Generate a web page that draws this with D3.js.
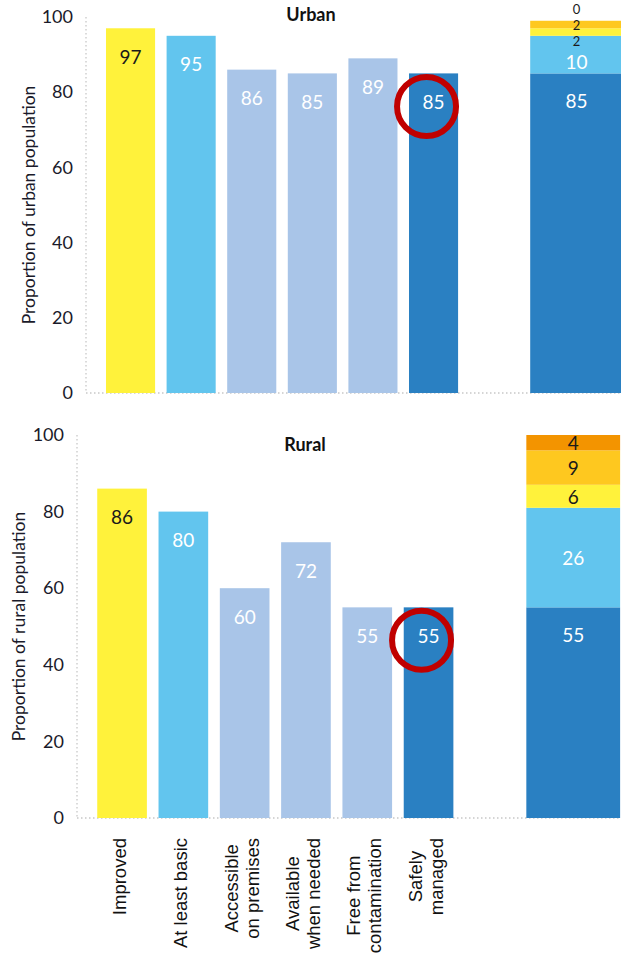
<!DOCTYPE html>
<html>
<head>
<meta charset="utf-8">
<script src="https://cdn.jsdelivr.net/npm/d3@7/dist/d3.min.js"></script>
<style>
  html, body { margin: 0; padding: 0; background: #fff; }
  svg { display: block; }
</style>
</head>
<body>
<svg id="chart" width="621" height="958"></svg>
<script>
// Drinking water service indicators, urban vs rural (% of population)
const categories = ["Improved", "At least basic", "Accessible on premises",
  "Available when needed", "Free from contamination", "Safely managed"];
const categoryLines = [["Improved"], ["At least basic"], ["Accessible", "on premises"],
  ["Available", "when needed"], ["Free from", "contamination"], ["Safely", "managed"]];
const urbanValues = [97, 95, 86, 85, 89, 85];
const ruralValues = [86, 80, 60, 72, 55, 55];

// Service ladder (stacked column), bottom to top
const ladderLevels = ["Safely managed", "Basic", "Limited", "Unimproved", "Surface water"];
const urbanLadder = [85, 10, 2, 2, 0];
const ruralLadder = [55, 26, 6, 9, 4];

const yTicks = [0, 20, 40, 60, 80, 100];

const barColors = ["#fff23b", "#62c5ee", "#a9c5e8", "#a9c5e8", "#a9c5e8", "#2a80c2"];
const barTextColors = ["#1a1a1a", "#fff", "#fff", "#fff", "#fff", "#fff"];
const ladderColors = ["#2a80c2", "#62c5ee", "#fff23b", "#fec81f", "#f39400"];
const ladderTextColors = ["#fff", "#fff", "#1a1a1a", "#1a1a1a", "#1a1a1a"];

const numFont = "Lato, 'Open Sans', sans-serif";
const svg = d3.select("#chart");

const panels = [
  { name: "Urban", values: urbanValues, ladder: urbanLadder,
    axisX: 86, step: 60.6, y0: 393, y100: 17,
    titleX: 311, titleY: 21,
    yTitle: "Proportion of urban population", yTitleX: 28 },
  { name: "Rural", values: ruralValues, ladder: ruralLadder,
    axisX: 77, step: 61.3, y0: 818, y100: 435,
    titleX: 305, titleY: 451,
    yTitle: "Proportion of rural population", yTitleX: 18 }
];

const slots = [...categories, "gap", "ladder"];
let lastX = null;

panels.forEach((p) => {
  const g = svg.append("g");
  const x = d3.scaleBand()
    .domain(slots)
    .range([p.axisX, p.axisX + p.step * 8.47])
    .paddingInner(0.19)
    .paddingOuter(0.33);
  const y = d3.scaleLinear().domain([0, 100]).range([p.y0, p.y100]);
  lastX = x;

  // dotted axis lines
  g.append("line")
    .attr("x1", p.axisX).attr("x2", p.axisX)
    .attr("y1", y(100)).attr("y2", y(0))
    .attr("stroke", "#c8c8c8").attr("stroke-width", 1.3)
    .attr("stroke-dasharray", "1.5,2.5");
  g.append("line")
    .attr("x1", p.axisX).attr("x2", 621)
    .attr("y1", y(0)).attr("y2", y(0))
    .attr("stroke", "#c8c8c8").attr("stroke-width", 1.3)
    .attr("stroke-dasharray", "1.5,2.5");

  // y ticks
  const yAxis = d3.axisLeft(y).tickValues(yTicks).tickSize(0).tickPadding(13);
  const ag = g.append("g").attr("transform", `translate(${p.axisX},0)`).call(yAxis);
  ag.select(".domain").remove();
  ag.selectAll("text")
    .attr("font-family", numFont).attr("font-size", 18)
    .attr("fill", "#1a1a2a");

  // y-axis title
  g.append("text")
    .attr("transform", `translate(${p.yTitleX},${(y(0) + y(100)) / 2}) rotate(-90)`)
    .attr("text-anchor", "middle").attr("dominant-baseline", "central")
    .attr("font-family", numFont).attr("font-size", 17.5)
    .attr("fill", "#1a1a2a")
    .text(p.yTitle);

  // panel title
  g.append("text")
    .attr("x", p.titleX).attr("y", p.titleY)
    .attr("text-anchor", "middle")
    .attr("font-family", numFont).attr("font-size", 18).attr("font-weight", 700)
    .attr("fill", "#111")
    .text(p.name);

  // indicator bars
  g.selectAll("rect.bar").data(p.values).join("rect")
    .attr("class", "bar")
    .attr("x", (d, i) => x(categories[i]))
    .attr("width", x.bandwidth())
    .attr("y", d => y(d))
    .attr("height", d => y(0) - y(d))
    .attr("fill", (d, i) => barColors[i]);

  g.selectAll("text.val").data(p.values).join("text")
    .attr("class", "val")
    .attr("x", (d, i) => x(categories[i]) + x.bandwidth() / 2)
    .attr("y", d => y(d) + 28)
    .attr("text-anchor", "middle").attr("dominant-baseline", "central")
    .attr("font-family", numFont).attr("font-size", 19)
    .attr("fill", (d, i) => barTextColors[i])
    .text(d => d);

  // stacked service ladder
  const stackW = p.step * 1.53;
  const sx = x("ladder");
  let cum = 0;
  const segs = p.ladder.map((v, i) => {
    const s = { v, i, lo: cum, hi: cum + v, fs: 19 };
    cum += v;
    s.ly = i === 0 ? y(s.hi) + 27 : (y(s.lo) + y(s.hi)) / 2;
    return s;
  });
  // thin segments at the top: smaller labels stacked down from the top edge,
  // the label of the segment below is pushed down to stay clear of them
  const thin = segs.filter(s => s.i > 0 && (y(s.lo) - y(s.hi)) < 14);
  if (thin.length > 1) {
    const gap = 16;
    const topY = Math.max(y(cum) - 12, 9);
    const n = thin.length;
    thin.forEach((s, k) => { s.ly = topY + (n - 1 - k) * gap; s.fs = 13; });
    const below = segs[thin[0].i - 1];
    below.ly = Math.max(below.ly, thin[0].ly + 20);
  }
  g.selectAll("rect.seg").data(segs).join("rect")
    .attr("class", "seg")
    .attr("x", sx).attr("width", stackW)
    .attr("y", d => y(d.hi))
    .attr("height", d => y(d.lo) - y(d.hi))
    .attr("fill", d => ladderColors[d.i]);
  g.selectAll("text.seglab").data(segs).join("text")
    .attr("class", "seglab")
    .attr("x", sx + stackW / 2)
    .attr("y", d => d.ly)
    .attr("text-anchor", "middle").attr("dominant-baseline", "central")
    .attr("font-family", numFont).attr("font-size", d => d.fs)
    .attr("fill", d => ladderTextColors[d.i])
    .text(d => d.v);

  // highlight ring around the safely managed value
  const smIdx = categories.indexOf("Safely managed");
  g.append("circle")
    .attr("cx", x(categories[smIdx]) + x.bandwidth() / 2 - 7)
    .attr("cy", y(p.values[smIdx]) + 33)
    .attr("r", 29.5)
    .attr("fill", "none")
    .attr("stroke", "#c00000").attr("stroke-width", 6);
});

// category labels (rotated) under the lower panel
const labTop = 838;
const lg = svg.append("g");
categoryLines.forEach((lines, i) => {
  const cx = lastX(categories[i]) + lastX.bandwidth() / 2;
  const grp = lg.append("g");
  const texts = lines.map((ln) => grp.append("text")
    .attr("font-family", "'Liberation Sans', Arial, sans-serif")
    .attr("font-size", 18.5)
    .attr("fill", "#111")
    .attr("text-anchor", "middle")
    .attr("dominant-baseline", "central")
    .text(ln));
  const maxW = d3.max(texts, t => t.node().getComputedTextLength());
  const n = lines.length;
  const lh = 21;
  texts.forEach((t, k) => {
    const tx = cx - 3 + (k - (n - 1) / 2) * lh;
    const ty = labTop + maxW / 2;
    t.attr("transform", `translate(${tx},${ty}) rotate(-90)`);
  });
});
</script>
</body>
</html>
